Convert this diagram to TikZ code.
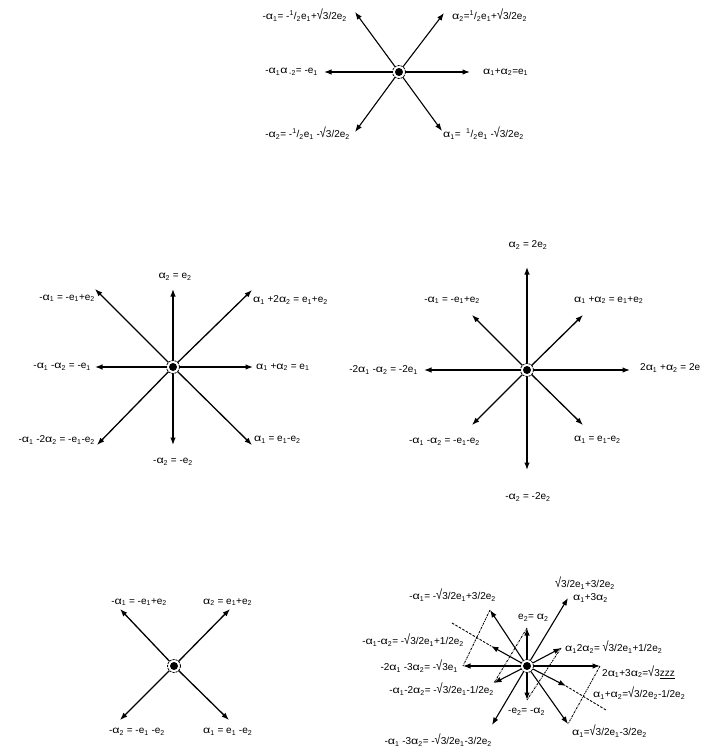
\documentclass[tikz,border=0pt]{standalone}
\usepackage{fontspec}
\setmainfont{Liberation Sans}
\usetikzlibrary{arrows.meta}
\newcommand\myAl{\scalebox{1.25}[1]{α}}
\newcommand\myA[1]{\myAl\textsubscript{#1}}
\newcommand\myE[1]{e\textsubscript{#1}}
\newcommand\myH{\textsuperscript{1}/\textsubscript{2}}
\newcommand\mySq{\scalebox{1.1}[1.35]{√}}
\begin{document}
\begin{tikzpicture}[x=1pt,y=-1pt,
  root/.style={-{Latex[length=7.5pt,width=5.5pt]}, line width=1.3pt},
  lbl/.style={font=\fontsize{10}{12}\selectfont, inner sep=0pt},
  ctr/.style={circle, draw, dashed, dash pattern=on 2.2pt off 1pt, fill=white, line width=0.8pt, minimum size=13pt, inner sep=0pt},
  dotl/.style={line width=0.9pt, dash pattern=on 2pt off 1pt on 0.7pt off 1pt},
  extl/.style={line width=0.9pt, dash pattern=on 2.5pt off 1.5pt}]
\useasboundingbox (0,0) rectangle (705,748);

% ---------- A2 ----------
\coordinate (a) at (399,72);
\coordinate (aR) at (470,72);
\coordinate (aL) at (324,72);
\coordinate (aUL) at (355,12);
\coordinate (aUR) at (444,13);
\coordinate (aDL) at (355,132);
\coordinate (aDR) at (442,131);
\foreach \t in {aR,aL,aUL,aUR,aDL,aDR} \draw[root, line width=1.1pt] (a) -- (\t);
\node[ctr] (an) at (a) {};
\fill (an.center) circle (4pt);
\node[lbl, anchor=east] (la1) at (347,15) {-\myA{1}= -\myH\myE{1}+\mySq3/2\myE{2}};
\node[lbl, anchor=west] (la2) at (452,15) {\myA{2}=\myH\myE{1}+\mySq3/2\myE{2}};
\node[lbl, anchor=east] (la3) at (318,72) {-\myA{1}\myAl\,\textsubscript{-2}= -\myE{1}};
\node[lbl, anchor=west] (la4) at (483,72) {\myA{1}+\myA{2}=\myE{1}};
\node[lbl, anchor=east] (la5) at (350,133) {-\myA{2}= -\myH\myE{1} -\mySq3/2\myE{2}};
\node[lbl, anchor=west] (la6) at (443,133) {\myA{1}=~ \myH\myE{1} -\mySq3/2\myE{2}};

% ---------- B2 ----------
\coordinate (b) at (173,367);
\coordinate (bU) at (173,289);
\coordinate (bD) at (173,445);
\coordinate (bR) at (253,367);
\coordinate (bL) at (95,367);
\coordinate (bUL) at (95,289);
\coordinate (bUR) at (252,290);
\coordinate (bDL) at (97,445);
\coordinate (bDR) at (252,445);
\foreach \t in {bU,bD,bR,bL,bUL,bUR,bDL,bDR} \draw[root] (b) -- (\t);
\node[ctr] (bn) at (b) {};
\fill (bn.center) circle (4pt);
\node[lbl] (lb1) at (175,277) {\myA{2} = \myE{2}};
\node[lbl, anchor=east] (lb2) at (95,298) {-\myA{1} = -\myE{1}+\myE{2}};
\node[lbl, anchor=west] (lb3) at (253,300) {\myA{1} +2\myA{2} = \myE{1}+\myE{2}};
\node[lbl, anchor=east] (lb4) at (91,367) {-\myA{1} -\myA{2} = -\myE{1}};
\node[lbl, anchor=west] (lb5) at (256,367) {\myA{1} +\myA{2} = \myE{1}};
\node[lbl, anchor=east] (lb6) at (95,440) {-\myA{1} -2\myA{2} = -\myE{1}-\myE{2}};
\node[lbl, anchor=west] (lb7) at (254,440) {\myA{1} = \myE{1}-\myE{2}};
\node[lbl] (lb8) at (173,462) {-\myA{2} = -\myE{2}};

% ---------- C2 ----------
\coordinate (c) at (527,370);
\coordinate (cU) at (527,267);
\coordinate (cD) at (527,470);
\coordinate (cR) at (630,370);
\coordinate (cL) at (424,370);
\coordinate (cUL) at (472,315);
\coordinate (cUR) at (583,315);
\coordinate (cDL) at (472,425);
\coordinate (cDR) at (583,425);
\foreach \t in {cU,cD,cR,cL,cUL,cUR,cDL,cDR} \draw[root] (c) -- (\t);
\node[ctr] (cn) at (c) {};
\fill (cn.center) circle (4pt);
\node[lbl] (lc1) at (528,245) {\myA{2} = 2\myE{2}};
\node[lbl, anchor=east] (lc2) at (480,300) {-\myA{1} = -\myE{1}+\myE{2}};
\node[lbl, anchor=west] (lc3) at (574,300) {\myA{1} +\myA{2} = \myE{1}+\myE{2}};
\node[lbl, anchor=east] (lc4) at (418,370) {-2\myA{1} -\myA{2} = -2\myE{1}};
\node[lbl, anchor=west] (lc5) at (640,368) {2\myA{1} +\myA{2} = 2e};
\node[lbl, anchor=east] (lc6) at (480,442) {-\myA{1} -\myA{2} = -\myE{1}-\myE{2}};
\node[lbl, anchor=west] (lc7) at (574,440) {\myA{1} = \myE{1}-\myE{2}};
\node[lbl] (lc8) at (528,497) {-\myA{2} = -2\myE{2}};

% ---------- A1 x A1 ----------
\coordinate (d) at (174,666);
\coordinate (dUL) at (120,609);
\coordinate (dUR) at (230,609);
\coordinate (dDL) at (120,720);
\coordinate (dDR) at (229,720);
\foreach \t in {dUL,dUR,dDL,dDR} \draw[root] (d) -- (\t);
\node[ctr] (dn) at (d) {};
\fill (dn.center) circle (4pt);
\node[lbl, anchor=east] (ld1) at (167,602) {-\myA{1} = -\myE{1}+\myE{2}};
\node[lbl, anchor=west] (ld2) at (203,602) {\myA{2} = \myE{1}+\myE{2}};
\node[lbl, anchor=east] (ld3) at (165,732) {-\myA{2} = -\myE{1} -\myE{2}};
\node[lbl, anchor=west] (ld4) at (203,732) {\myA{1} = \myE{1} -\myE{2}};

% ---------- G2 ----------
\coordinate (g) at (527,666);
\coordinate (gR) at (600,666);
\coordinate (gL) at (463,666);
\coordinate (gUR) at (568,598);
\coordinate (gUL) at (490,610);
\coordinate (gDR) at (568,724);
\coordinate (gDL) at (492,725);
\coordinate (gU) at (527,628);
\coordinate (gD) at (527,700);
\coordinate (gur) at (561,648);
\coordinate (gul) at (491,646);
\coordinate (gdl) at (494,683);
\coordinate (gdr) at (566,686);
\coordinate (gx1) at (452,623);
\coordinate (gx2) at (606,710);
\draw[dotl] (gUL) -- (gL);
\draw[dotl] (gU) -- (gdl);
\draw[dotl] (gur) -- (gD);
\draw[dotl] (gR) -- (gDR);
\draw[extl] (gx1) -- (gul);
\draw[extl] (gdr) -- (gx2);
\foreach \t in {gR,gL,gUR,gUL,gDR,gDL,gU,gD,gur,gul,gdl,gdr} \draw[root, line width=1.1pt] (g) -- (\t);
\node[ctr] (gn) at (g) {};
\fill (gn.center) circle (4pt);
\node[lbl, anchor=west] (lg1) at (555,583) {\mySq3/2\myE{1}+3/2\myE{2}};
\node[lbl, anchor=west] (lg2) at (573,598) {\myA{1}+3\myA{2}};
\node[lbl, anchor=east] (lg3) at (496,595) {-\myA{1}= -\mySq3/2\myE{1}+3/2\myE{2}};
\node[lbl, anchor=west] (lg4) at (518,618) {\myE{2}= \myA{2}};
\node[lbl, anchor=west] (lg5) at (565,647) {\myA{1}2\myA{2}= \mySq3/2\myE{1}+1/2\myE{2}};
\node[lbl, anchor=east] (lg6) at (464,640) {-\myA{1}-\myA{2}= -\mySq3/2\myE{1}+1/2\myE{2}};
\node[lbl, anchor=east] (lg7) at (458,666) {-2\myA{1} -3\myA{2}= -\mySq3\myE{1}};
\node[lbl, anchor=east] (lg8) at (494,689) {-\myA{1}-2\myA{2}= -\mySq3/2\myE{1}-1/2\myE{2}};
\node[lbl, anchor=east] (lg9) at (492,740) {-\myA{1} -3\myA{2}= -\mySq3/2\myE{1}-3/2\myE{2}};
\node[lbl, anchor=west] (lg10) at (508,712) {-\myE{2}= -\myA{2}};
\node[lbl, anchor=west] (lg11) at (602,672) {2\myA{1}+3\myA{2}=\mySq3\underline{zzz}};
\node[lbl, anchor=west] (lg12) at (593,693) {\myA{1}+\myA{2}=\mySq3/2\myE{2}-1/2\myE{2}};
\node[lbl, anchor=west] (lg13) at (572,731) {\myA{1}=\mySq3/2\myE{1}-3/2\myE{2}};
\end{tikzpicture}
\end{document}
